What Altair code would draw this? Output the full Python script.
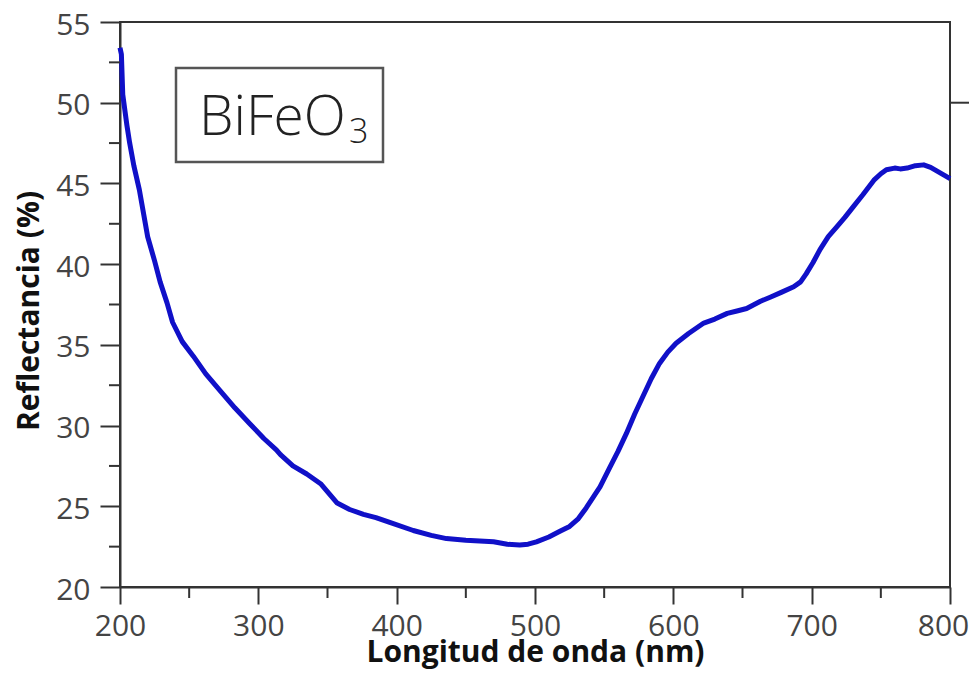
import altair as alt
import pandas as pd

wavelength = [200, 201, 202, 205, 207, 210, 214, 220, 225, 229, 234, 238, 245, 253, 262, 272, 283,
              294, 304, 313, 316, 325, 335, 345, 351, 357, 366, 376, 385, 395, 412, 425, 436, 450,
              460, 470, 480, 489, 495, 501, 510, 518, 525, 531, 537, 547, 554, 560, 566, 572, 578,
              584, 590, 596, 602, 611, 622, 630, 639, 646, 653, 663, 670, 678, 687, 692, 696, 701,
              706, 712, 718, 724, 730, 737, 745, 750, 754, 760, 764, 769, 775, 781, 786, 791, 796, 800]
reflectance = [53.4, 53.0, 50.5, 48.6, 47.5, 46.1, 44.6, 41.7, 40.2, 38.9, 37.6, 36.4, 35.2, 34.3,
               33.2, 32.2, 31.1, 30.1, 29.2, 28.5, 28.2, 27.5, 27.0, 26.4, 25.8, 25.2, 24.8, 24.5,
               24.3, 24.0, 23.5, 23.2, 23.0, 22.9, 22.85, 22.8, 22.65, 22.6, 22.65, 22.8, 23.1,
               23.45, 23.75, 24.2, 24.9, 26.2, 27.4, 28.4, 29.5, 30.7, 31.8, 32.9, 33.85, 34.55,
               35.1, 35.7, 36.35, 36.6, 36.95, 37.1, 37.25, 37.7, 37.95, 38.25, 38.6, 38.9, 39.4,
               40.1, 40.9, 41.7, 42.3, 42.9, 43.55, 44.3, 45.2, 45.6, 45.85, 45.95, 45.9, 45.95,
               46.1, 46.15, 46.0, 45.75, 45.5, 45.3]

x_major = [200, 300, 400, 500, 600, 700, 800]
x_minor = [250, 350, 450, 550, 650, 750]
y_major = [20, 25, 30, 35, 40, 45, 50, 55]
y_minor = [22.5, 27.5, 32.5, 37.5, 42.5, 47.5, 52.5]
right_tick = [50]

x_title = "Longitud de onda (nm)"
y_title = "Reflectancia (%)"
legend_main = "BiFeO"
legend_sub = "3"

W, H = 830, 565
FONT = "Open Sans"

df = pd.DataFrame({"nm": wavelength, "val": reflectance})

xs = alt.Scale(domain=[200, 800], nice=False, zero=False)
ys = alt.Scale(domain=[20, 55], nice=False, zero=False)

x_axis = alt.Axis(
    values=x_major, tickSize=17, tickWidth=2, tickColor="#333", domainColor="#333",
    domainWidth=2, labelFont=FONT, labelFontSize=30, labelColor="#444", labelPadding=7,
    labelOffset={"condition": {"test": "datum.value == 800", "value": -7}, "value": 0},
    grid=False, title=x_title, titleFont=FONT, titleFontSize=30, titleFontWeight="bold",
    titleColor="#111", titleX=W / 2, titleY=74, titleBaseline="alphabetic", titleAlign="center",
    labelFlush=False, labelOverlap=False)
y_axis = alt.Axis(
    values=y_major, tickSize=20, tickWidth=2, tickColor="#333", domainColor="#333",
    domainWidth=2, labelFont=FONT, labelFontSize=30, labelColor="#444", labelPadding=10,
    labelBaseline="middle", labelOffset=3,
    grid=False, title=y_title, titleFont=FONT, titleFontSize=30, titleFontWeight="bold",
    titleColor="#111", titleX=-82, titleY=H / 2 + 6, titleAngle=-90,
    titleBaseline="alphabetic", titleAlign="center", labelFlush=False, labelOverlap=False)

line = alt.Chart(df).mark_line(color="#1010C8", strokeWidth=5, strokeJoin="round").encode(
    x=alt.X("nm:Q", scale=xs, axis=x_axis, title=x_title),
    y=alt.Y("val:Q", scale=ys, axis=y_axis, title=y_title),
)

xminor = alt.Chart(pd.DataFrame({"nm": x_minor})).mark_rule(color="#333", strokeWidth=2).encode(
    x=alt.X("nm:Q", scale=xs, axis=x_axis, title=x_title), y=alt.value(H), y2=alt.value(H + 11))
yminor = alt.Chart(pd.DataFrame({"val": y_minor})).mark_rule(color="#333", strokeWidth=2).encode(
    y=alt.Y("val:Q", scale=ys, axis=y_axis, title=y_title), x=alt.value(-11), x2=alt.value(0))
rtick = alt.Chart(pd.DataFrame({"val": right_tick})).mark_rule(color="#333", strokeWidth=2).encode(
    y=alt.Y("val:Q", scale=ys, axis=y_axis, title=y_title), x=alt.value(W), x2=alt.value(W + 19))

box = alt.Chart(pd.DataFrame({"a": [0]})).mark_rect(
    fill="white", stroke="#555", strokeWidth=2.5).encode(
    x=alt.value(56), x2=alt.value(263), y=alt.value(46), y2=alt.value(140))
t_main = alt.Chart(pd.DataFrame({"t": [legend_main]})).mark_text(
    font=FONT, fontSize=55, fontWeight=300, color="#222", align="left", baseline="alphabetic").encode(
    text="t:N", x=alt.value(79), y=alt.value(113))
t_sub = alt.Chart(pd.DataFrame({"t": [legend_sub]})).mark_text(
    font=FONT, fontSize=34, fontWeight=300, color="#222", align="left", baseline="alphabetic").encode(
    text="t:N", x=alt.value(229), y=alt.value(121))

chart = alt.layer(line, xminor, yminor, rtick, box, t_main, t_sub).properties(
    width=W, height=H,
    autosize=alt.AutoSizeParams(type="none"),
    padding={"left": 112, "top": 14, "right": 21, "bottom": 83},
).configure(background="white").configure_view(stroke="#333", strokeWidth=2)

chart.save("out.html", embed_options={"renderer": "svg", "actions": False})
